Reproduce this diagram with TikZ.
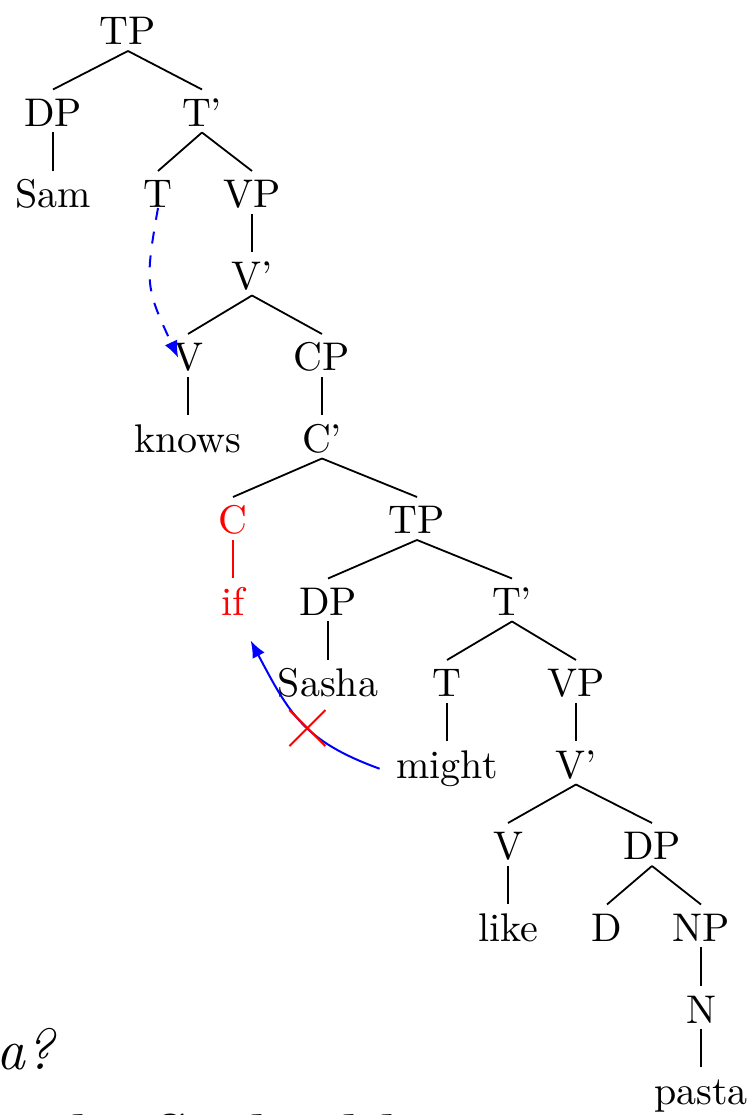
\documentclass[tikz,border=0pt]{standalone}
\usetikzlibrary{arrows.meta}
\begin{document}
\begin{tikzpicture}[x=0.25pt,y=0.25pt,
  tn/.style={anchor=base,inner sep=0pt},
  edge/.style={line width=0.45pt},
  mv/.style={blue,line width=0.5pt,-{Latex[length=4.2pt,width=3.4pt]}},
  xmark/.style={red,line width=0.5pt}]
\useasboundingbox (0,0) rectangle (751,1115);
% tree nodes: name / x / level / text
\foreach \n/\x/\k/\t in {TPa/128/0/TP, DPa/53/1/DP, Tba/202/1/T', Sam/53/2/Sam,
  Ta/158/2/T, VPa/252/2/VP, Vba/252/3/V', Va/188/4/V, CP/322/4/CP,
  knows/188/5/knows, Cb/322/5/C', TPb/417/6/TP, DPb/328/7/DP, Tbb/512/7/T',
  Sasha/328/8/Sasha, Tb/447/8/T, VPb/576/8/VP, might/447/9/might, Vbb/576/9/V',
  Vb/508/10/V, DPc/652/10/DP, like/508/11/like, D/607/11/D, NP/701/11/NP,
  N/701/12/N, pasta/701/13/pasta}
  \node[tn] (\n) at (\x,{1070-81.5*\k}) {\t};
\node[tn,red] (C) at (233,{1070-81.5*6}) {C};
\node[tn,red] (if) at (233,{1070-81.5*7}) {if};
% branches
\foreach \a/\b in {TPa/DPa, TPa/Tba, DPa/Sam, Tba/Ta, Tba/VPa, VPa/Vba, Vba/Va,
  Vba/CP, Va/knows, CP/Cb, Cb/C, Cb/TPb, TPb/DPb, TPb/Tbb, DPb/Sasha, Tbb/Tb,
  Tbb/VPb, Tb/might, VPb/Vbb, Vbb/Vb, Vbb/DPc, Vb/like, DPc/D, DPc/NP, NP/N, N/pasta}
  \draw[edge] ([yshift=-1.5pt]\a.base) -- ([yshift=9.25pt]\b.base);
\draw[edge,red] ([yshift=-1.5pt]C.base) -- ([yshift=9.25pt]if.base);
% movement arrows
\draw[mv,dashed] (Ta.base) to[out=-100,in=115,looseness=1.3] ([xshift=1.5pt]Va.west);
\draw[mv] ([xshift=-4pt]might.west) to[out=160,in=-62,looseness=1.15]
  coordinate[pos=0.44] (cross) ([xshift=1.3pt,yshift=-6.1pt]if.south east);
\draw[xmark] ([shift={(-18,-18)}]cross) -- ([shift={(18,18)}]cross);
\draw[xmark] ([shift={(-18,18)}]cross) -- ([shift={(18,-18)}]cross);
% sentence fragments at the bottom
\node[anchor=base east,inner sep=0pt,font=\Large\itshape] (s1) at (55,46) {pasta?};
\node[anchor=base west,inner sep=0pt,font=\Large\bfseries\itshape] (s2) at (-43,-39) {might Sasha like pasta};
\end{tikzpicture}
\end{document}
